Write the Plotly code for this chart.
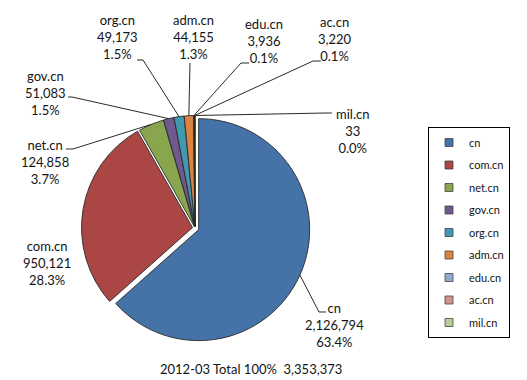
import plotly.graph_objects as go
import math

# ---------------- data ----------------
period = "2012-03"
labels = ["cn", "com.cn", "net.cn", "gov.cn", "org.cn", "adm.cn", "edu.cn", "ac.cn", "mil.cn"]
values = [2126794, 950121, 124858, 51083, 49173, 44155, 3936, 3220, 33]

# ---------------- styles / layout ----------------
colors = ["#4572A7", "#AA4643", "#89A54E", "#71588F", "#4198AF",
          "#DB843D", "#93A9CF", "#D19392", "#B9CD96"]
pulls = [0.036, 0.0225, 0.0135, 0.0135, 0.0135, 0.0135, 0.0135, 0.0135, 0.0135]

W, H = 527, 380
CX, CY, R = 195.0, 228.0, 111.0     # pie centre / radius in pixels
FONT = "Lato, 'Open Sans', sans-serif"
TXT = "#141414"
LINE = "#2a2a2a"

# label placement (pixels): text centre, elbow point, end of horizontal stub
label_pos = {
    "cn":     dict(t=(334, 325), e=(319, 312), h=326),
    "com.cn": dict(t=(47, 263), e=None, h=None),
    "net.cn": dict(t=(45, 162), e=(73, 149), h=66),
    "gov.cn": dict(t=(45, 93), e=(72, 97), h=68),
    "org.cn": dict(t=(117, 37), e=(143, 60), h=137),
    "adm.cn": dict(t=(193, 37), e=(190, 63), h=190),
    "edu.cn": dict(t=(264, 41), e=(241, 63), h=249),
    "ac.cn":  dict(t=(335, 39), e=(313, 61), h=321),
    "mil.cn": dict(t=(352, 131), e=(326, 113), h=332),
}


def px(x):
    return x / W


def py(y):
    return 1 - y / H


total = sum(values)
side = 2 * R * (1 + max(pulls))

fig = go.Figure()
fig.add_trace(go.Pie(
    labels=labels, values=values, sort=False, direction="clockwise", rotation=0,
    pull=pulls, textinfo="none", showlegend=False,
    marker=dict(colors=colors, line=dict(color=LINE, width=0.9)),
    domain=dict(x=[px(CX - side / 2), px(CX + side / 2)],
                y=[py(CY + side / 2), py(CY - side / 2)]),
))

# legend entries
for lab, col in zip(labels, colors):
    fig.add_trace(go.Scatter(
        x=[None], y=[None], mode="markers", name=lab, legendgroup=lab,
        marker=dict(symbol="square", size=8, color=col, line=dict(color="#444", width=0.8)),
        hoverinfo="skip", showlegend=True,
    ))

annotations = []
shapes = []
cum = 0
for lab, v, p in zip(labels, values, pulls):
    mid = (cum + v / 2) / total * 2 * math.pi
    cum += v
    rr = R * (1 + p)
    ax = CX + rr * math.sin(mid)
    ay = CY - rr * math.cos(mid)
    pos = label_pos[lab]
    tx, ty = pos["t"]
    pct = v / total * 100
    annotations.append(dict(
        x=px(tx), y=py(ty), xref="paper", yref="paper", showarrow=False,
        xanchor="center", yanchor="middle", align="center",
        text=f"{lab}<br>{v:,}<br>{pct:.1f}%",
        font=dict(family=FONT, size=13, color=TXT),
    ))
    if pos["e"] is not None:
        ex, ey = pos["e"]
        hx = pos["h"]
        path = (f"M {px(ax):.5f} {py(ay):.5f} L {px(ex):.5f} {py(ey):.5f} "
                f"L {px(hx):.5f} {py(ey):.5f}")
        shapes.append(dict(type="path", xref="paper", yref="paper", path=path,
                           line=dict(color=LINE, width=1)))

annotations.append(dict(
    x=px(251), y=py(369), xref="paper", yref="paper", showarrow=False,
    xanchor="center", yanchor="middle",
    text=f"{period} Total 100%\u00a0 {total:,}",
    font=dict(family=FONT, size=13, color=TXT),
))

fig.update_layout(
    width=W, height=H, margin=dict(l=0, r=0, t=0, b=0),
    paper_bgcolor="white", plot_bgcolor="white",
    xaxis=dict(visible=False), yaxis=dict(visible=False),
    annotations=annotations, shapes=shapes,
    legend=dict(
        x=px(428), y=py(127), xanchor="left", yanchor="top",
        bordercolor="#000", borderwidth=1, bgcolor="white",
        font=dict(family=FONT, size=11, color=TXT),
        traceorder="grouped", tracegroupgap=3.5, itemwidth=30,
    ),
    showlegend=True,
)

fig.write_html("out.html", config={"displayModeBar": False},
               post_script="document.body.style.margin='0';document.body.style.overflow='hidden';")
